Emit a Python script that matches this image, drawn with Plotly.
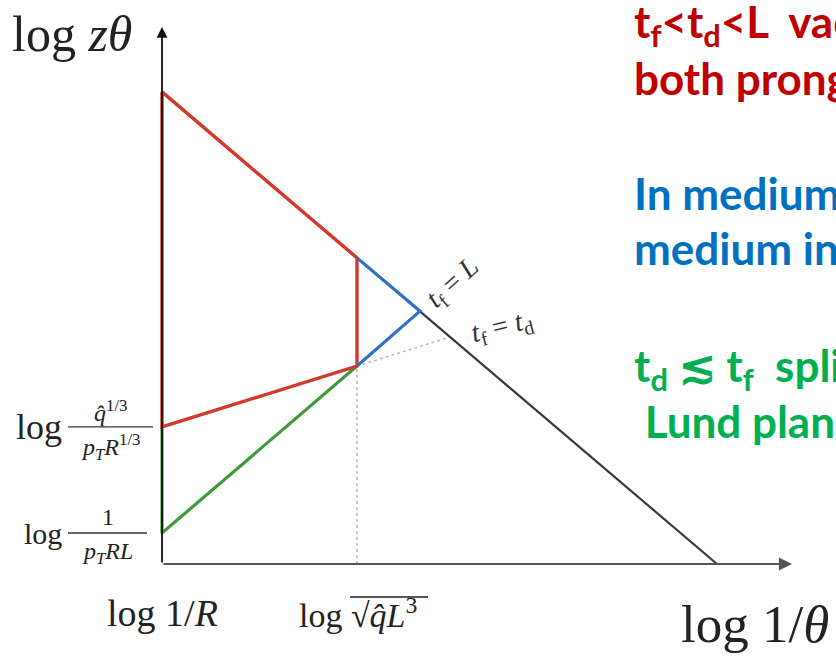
import plotly.graph_objects as go

# ---------------- data (logical log-space coordinates) ----------------
diag_x = [0.0, 2.846]          # t_f = L boundary
diag_y = [2.421, 0.0]
red_x = [0.0, 1.0, 1.0, 0.0, 0.0]
red_y = [2.421, 1.570, 1.015, 0.703, 2.421]
blue_x = [1.0, 1.323, 1.0]
blue_y = [1.570, 1.297, 1.015]
green_x = [0.0, 0.0, 1.0]
green_y = [0.703, 0.159, 1.015]
td_x = [1.0, 1.477]            # t_f = t_d dotted continuation
td_y = [1.015, 1.164]
vdot_x = [1.0, 1.0]
vdot_y = [0.0, 1.015]
axis_x_end = 3.231
axis_y_end = 2.754

x_tick_vals = [0.0, 1.0]
x_tick_text = ["log 1/<i>R</i>", "log √<i>q̂L</i><sup>3</sup>"]
y_tick_vals = [0.703, 0.159]
y_tick_num = ["<i>q̂</i><sup>1/3</sup>", "1"]
y_tick_den = ["<i>p</i><sub><i>T</i></sub><i>R</i><sup>1/3</sup>", "<i>p</i><sub><i>T</i></sub><i>RL</i>"]

side_text = [
    "t<sub>f</sub>&lt;t<sub>d</sub>&lt;L  vacuum",
    "both prongs",
    "In medium",
    "medium induced",
    "t<sub>d</sub> ≲ t<sub>f</sub>  splitting",
    " Lund plane",
]
side_colors = ["#C00000", "#C00000", "#0070C0", "#0070C0", "#00B050", "#00B050"]

# ---------------- pixel helpers for layout placement ----------------
W, H = 836, 656
X0, Y0, U = 162, 564, 195.0
def px(p):
    return (p - X0) / U
def py(p):
    return (Y0 - p) / U

SERIF = "Liberation Serif, Times New Roman, serif"
SANS = "Lato, Carlito, Calibri, sans-serif"

fig = go.Figure()

def line(x, y, color, width, dash=None):
    fig.add_trace(go.Scatter(x=x, y=y, mode="lines",
                             line=dict(color=color, width=width, dash=dash),
                             hoverinfo="skip"))

line(vdot_x, vdot_y, "#b5b5b5", 1.4, "dot")
line(td_x, td_y, "#b5b5b5", 1.4, "dot")
line(diag_x, diag_y, "#3a3a3a", 2.2)
line(green_x, green_y, "#3f9a3a", 3.2)
line(red_x, red_y, "#d4392b", 3.4)
line(blue_x, blue_y, "#2d72c8", 3.2)

ann = []
# axes with arrows
ann.append(dict(x=axis_x_end, y=0, ax=0, ay=0, xref="x", yref="y", axref="x", ayref="y",
                showarrow=True, arrowhead=2, arrowsize=1.2, arrowwidth=2.2, arrowcolor="#555555", text=""))
ann.append(dict(x=0, y=axis_y_end, ax=0, ay=0, xref="x", yref="y", axref="x", ayref="y",
                showarrow=True, arrowhead=2, arrowsize=1.2, arrowwidth=1.8, arrowcolor="#111111", text=""))

# axis titles
ann.append(dict(x=px(10), y=py(34), xanchor="left", yanchor="middle", showarrow=False,
                text="log <i>zθ</i>", font=dict(family=SERIF, size=50, color="#222")))
ann.append(dict(x=px(679), y=py(624), xanchor="left", yanchor="middle", showarrow=False,
                text="log 1/<i>θ</i>", font=dict(family=SERIF, size=53, color="#222")))

# x tick labels
xt_sizes = [38, 34]
xt_cx = [0.0, px(358)]
for cx, t, s in zip(xt_cx, x_tick_text, xt_sizes):
    ann.append(dict(x=cx, y=py(613), xanchor="center", yanchor="middle", showarrow=False,
                    text=t, font=dict(family=SERIF, size=s, color="#222")))

# y tick labels as fractions
log_sizes = [36, 30]
bar_w = [85, 79]
shapes = []
for v, num, den, s, bw in zip(y_tick_vals, y_tick_num, y_tick_den, log_sizes, bar_w):
    ann.append(dict(x=px(64), y=v, xanchor="right", yanchor="middle", showarrow=False,
                    text="log", font=dict(family=SERIF, size=s, color="#222")))
    cx = px(68 + bw / 2)
    ann.append(dict(x=cx, y=v + 16 / U, xanchor="center", yanchor="middle", showarrow=False,
                    text=num, font=dict(family=SERIF, size=24, color="#222")))
    ann.append(dict(x=cx, y=v - 20 / U, xanchor="center", yanchor="middle", showarrow=False,
                    text=den, font=dict(family=SERIF, size=24, color="#222")))
    shapes.append(dict(type="line", xref="x", yref="y", x0=px(68), x1=px(68 + bw), y0=v, y1=v,
                       line=dict(color="#333", width=1.3)))

# sqrt overline
shapes.append(dict(type="line", xref="x", yref="y", x0=px(350), x1=px(428), y0=py(597), y1=py(597),
                   line=dict(color="#222", width=1.3)))

# boundary labels
ann.append(dict(x=px(453), y=py(283), showarrow=False, textangle=-42,
                text="<i>t</i><sub>f</sub> = <i>L</i>", font=dict(family=SERIF, size=28, color="#333")))
ann.append(dict(x=px(502), y=py(327), showarrow=False, textangle=-14,
                text="<i>t</i><sub>f</sub> = <i>t</i><sub>d</sub>", font=dict(family=SERIF, size=28, color="#333")))

# side text
side_y = [24, 78, 193, 248, 368, 421]
for t, c, yy in zip(side_text, side_colors, side_y):
    ann.append(dict(x=px(632), y=py(yy), xanchor="left", yanchor="middle", showarrow=False,
                    text="<b>" + t + "</b>", font=dict(family=SANS, size=44, color=c)))

fig.update_layout(
    width=W, height=H, margin=dict(l=0, r=0, t=0, b=0),
    paper_bgcolor="white", plot_bgcolor="white", showlegend=False,
    xaxis=dict(range=[px(0), px(W)], visible=False, fixedrange=True),
    yaxis=dict(range=[py(H), py(0)], visible=False, fixedrange=True),
    annotations=ann, shapes=shapes,
)
fig.write_html("out.html", config={"displayModeBar": False},
               post_script="document.body.style.margin='0px';document.body.style.overflow='hidden';")
